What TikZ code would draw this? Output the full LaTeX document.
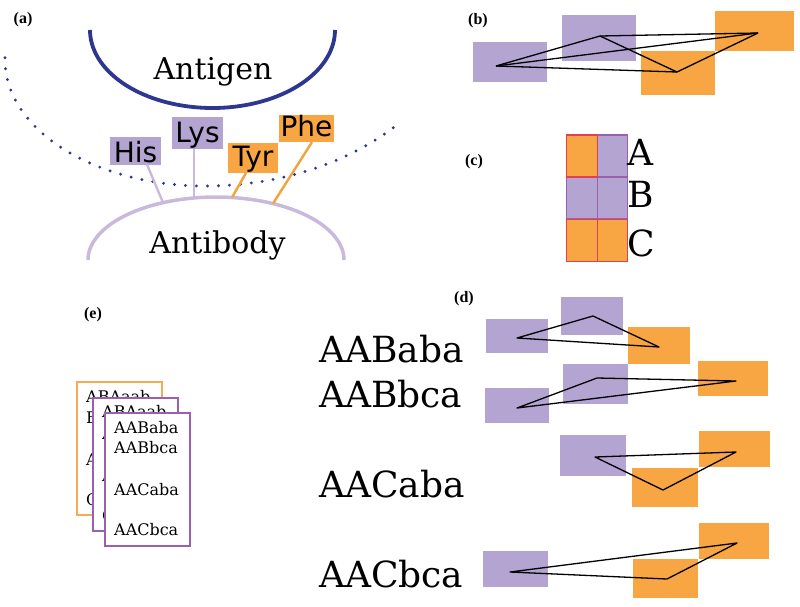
\documentclass[tikz,border=0pt]{standalone}
\usepackage{fontspec}
\setmainfont{DejaVu Serif}
\newfontfamily\sansf{DejaVu Sans}
\newfontfamily\timesf{Liberation Serif}
\usetikzlibrary{calc}
\definecolor{lav}{HTML}{B4A4D2}
\definecolor{org}{HTML}{F8A643}
\definecolor{navy}{HTML}{2E3790}
\definecolor{lavline}{HTML}{C9BADD}
\definecolor{orgline}{HTML}{F2A33E}
\definecolor{gridred}{HTML}{E2404E}
\definecolor{gridpur}{HTML}{9A62AE}
\definecolor{cardorg}{HTML}{F5AB55}
\definecolor{cardpur}{HTML}{9A5FAE}
\begin{document}
\begin{tikzpicture}[x=1pt,y=-1pt,
  lbl/.style={font=\timesf\bfseries\fontsize{16}{18}\selectfont, inner sep=0pt},
  pbox/.style={fill=lav, inner sep=0pt, outer sep=0pt},
  obox/.style={fill=org, inner sep=0pt, outer sep=0pt},
  aa/.style={font=\sansf\fontsize{28}{30}\selectfont, inner sep=0pt, anchor=base},
  big/.style={font=\fontsize{30}{32}\selectfont, inner sep=0pt, anchor=base},
  seq/.style={font=\fontsize{36}{38}\selectfont, inner sep=0pt, anchor=base west},
  ctext/.style={font=\fontsize{16}{18}\selectfont, inner sep=0pt, anchor=west},
  edge/.style={black, line width=1.3pt, line join=round},
  lavc/.style={lavline, line width=2.4pt},
  orgc/.style={orgline, line width=2.4pt},
  pcell/.style={fill=lav, draw=gridpur, line width=1.4pt, minimum width=30.5, minimum height=42, inner sep=0pt},
  ocell/.style={fill=org, draw=gridred, line width=1.4pt, minimum width=30.5, minimum height=42, inner sep=0pt},
  ocard/.style={draw=cardorg, fill=white, line width=1.8pt, minimum width=85, minimum height=133, anchor=north west, inner sep=0pt},
  pcard/.style={draw=cardpur, fill=white, line width=1.8pt, minimum width=85, minimum height=133, anchor=north west, inner sep=0pt}
]
\useasboundingbox (0,0) rectangle (800,606);
\fill[white] (0,0) rectangle (800,606);

% ---------- panel labels ----------
\node[lbl] (la) at (23,20) {(a)};
\node[lbl] (lb) at (478,21) {(b)};
\node[lbl] (lc) at (474,162) {(c)};
\node[lbl] (ld) at (464,299) {(d)};
\node[lbl] (le) at (93,315) {(e)};

% ---------- panel (a) ----------
\draw[navy, line width=3.2pt, line cap=round, dash pattern=on 0pt off 11pt]
  plot[domain=181:90, samples=60] ({205+200*cos(\x)},{60+126*sin(\x)})
  -- plot[domain=90:42.4, samples=50] ({205+260*cos(\x)},{-2+188*sin(\x)});
\draw[navy, line width=3.8pt] plot[domain=0:180, samples=90] ({212.5+122.5*cos(\x)},{30+78*sin(\x)});
\draw[lavline, line width=3.5pt] plot[domain=180:360, samples=90] ({216+128*cos(\x)},{260+63*sin(\x)});
\node[big] (antigen) at (213,79) {Antigen};
\node[big] (antibody) at (217.5,253) {Antibody};

\node[pbox, minimum width=51, minimum height=28] (his) at (135.5,150.5) {};
\node[pbox, minimum width=51, minimum height=32] (lys) at (197.5,133) {};
\node[obox, minimum width=50, minimum height=30] (tyr) at (253,158) {};
\node[obox, minimum width=55, minimum height=27] (phe) at (306.5,128.5) {};

\coordinate (hisEnd) at (163,202.6);
\coordinate (lysEnd) at (194,198);
\coordinate (tyrEnd) at (232,197.5);
\coordinate (pheEnd) at (273,203.6);
\draw[lavc] ($(his.south)+(11.5,0)$) -- (hisEnd);
\draw[lavc] ($(lys.south)+(-3.5,0)$) -- (lysEnd);
\draw[orgc] ($(tyr.south)+(-7,0)$) -- (tyrEnd);
\draw[orgc] ($(phe.south)+(5.5,0)$) -- (pheEnd);

\node[aa] (hist) at (135.5,162) {His};
\node[aa] (lyst) at (197.5,142) {Lys};
\node[aa] (tyrt) at (253,166.5) {Tyr};
\node[aa] (phet) at (306.5,136.5) {Phe};

% ---------- panel (b) ----------
\node[pbox, minimum width=74, minimum height=40] (b1) at (510,62) {};
\node[pbox, minimum width=74, minimum height=46] (b2) at (599,38) {};
\node[obox, minimum width=74, minimum height=44] (b3) at (678,73) {};
\node[obox, minimum width=79, minimum height=40] (b4) at (754.5,31) {};
\coordinate (p1) at (496,66);
\coordinate (p2) at (600,36);
\coordinate (p3) at (677,72);
\coordinate (p4) at (758,33);
\draw[edge] (p1) -- (p2);
\draw[edge] (p1) -- (p3);
\draw[edge] (p1) -- (p4);
\draw[edge] (p2) -- (p3);
\draw[edge] (p2) -- (p4);
\draw[edge] (p3) -- (p4);

% ---------- panel (c) ----------
\node[pcell] (cA2) at (612.5,156) {};
\node[pcell] (cB1) at (582,198) {};
\node[pcell] (cB2) at (612.5,198) {};
\node[ocell] (cA1) at (582,156) {};
\node[ocell] (cC1) at (582,240.5) {};
\node[ocell] (cC2) at (612.5,240.5) {};
\node[seq] (tA) at (627,165) {A};
\node[seq] (tB) at (627,207) {B};
\node[seq] (tC) at (627,256) {C};

% ---------- panel (d) ----------
\node[seq] (s1) at (319,362) {AABaba};
\node[seq] (s2) at (319,407) {AABbca};
\node[seq] (s3) at (319,497) {AACaba};
\node[seq] (s4) at (319,587) {AACbca};

% row 1
\node[pbox, minimum width=62, minimum height=34] (r1a) at (517,336) {};
\node[pbox, minimum width=62, minimum height=38] (r1b) at (592,316) {};
\node[obox, minimum width=62, minimum height=37] (r1c) at (659,345.5) {};
\coordinate (q1a) at (517,338);
\coordinate (q1b) at (593,316);
\coordinate (q1c) at (659,347);
\draw[edge] (q1a) -- (q1b) -- (q1c) -- cycle;
% row 2
\node[pbox, minimum width=64, minimum height=35] (r2a) at (517,405.5) {};
\node[pbox, minimum width=65, minimum height=40] (r2b) at (595.5,384) {};
\node[obox, minimum width=70, minimum height=35] (r2c) at (733,378.5) {};
\coordinate (q2a) at (517,408);
\coordinate (q2b) at (597,378);
\coordinate (q2c) at (736,381);
\draw[edge] (q2a) -- (q2b) -- (q2c) -- cycle;
% row 3
\node[pbox, minimum width=66, minimum height=41] (r3a) at (593,455.5) {};
\node[obox, minimum width=71, minimum height=36] (r3b) at (734.5,449) {};
\node[obox, minimum width=66, minimum height=39] (r3c) at (665,487.5) {};
\coordinate (q3a) at (595,457);
\coordinate (q3b) at (736,452);
\coordinate (q3c) at (663,490);
\draw[edge] (q3a) -- (q3b) -- (q3c) -- cycle;
% row 4
\node[pbox, minimum width=65, minimum height=36] (r4a) at (515.5,569) {};
\node[obox, minimum width=70, minimum height=36] (r4b) at (734,541) {};
\node[obox, minimum width=65, minimum height=39] (r4c) at (665.5,578.5) {};
\coordinate (q4a) at (510,572);
\coordinate (q4b) at (737,543);
\coordinate (q4c) at (667,579);
\draw[edge] (q4a) -- (q4b) -- (q4c) -- cycle;

% ---------- panel (e) ----------
\node[ocard] (card1) at (76,381) {};
\node[ctext] (c1l1) at (86,397) {ABAaab};
\node[ctext] (c1l2) at (86,418) {BABbca};
\node[ctext] (c1l3) at (86,460) {ABCaba};
\node[ctext] (c1l4) at (86,500) {CACbca};
\node[pcard] (card2) at (92,397) {};
\node[ctext] (c2l1) at (102,412) {ABAaab};
\node[ctext] (c2l2) at (102,434) {ABAbca};
\node[ctext] (c2l3) at (102,476) {ABCaba};
\node[ctext] (c2l4) at (102,516) {CBCbca};
\node[pcard] (card3) at (104,412) {};
\node[ctext] (c3l1) at (114,428) {AABaba};
\node[ctext] (c3l2) at (114,448) {AABbca};
\node[ctext] (c3l3) at (114,490) {AACaba};
\node[ctext] (c3l4) at (114,530) {AACbca};
\end{tikzpicture}
\end{document}
